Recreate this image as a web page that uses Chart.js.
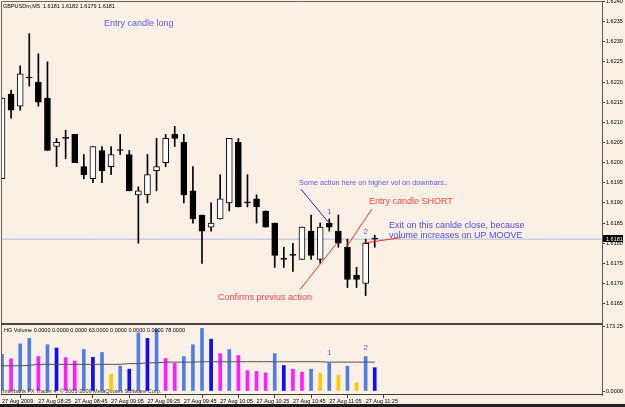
<!DOCTYPE html>
<html>
<head>
<meta charset="utf-8">
<script src="https://cdn.jsdelivr.net/npm/chart.js@4.4.1/dist/chart.umd.min.js"></script>
<style>
  html, body { margin: 0; padding: 0; background: #1e1e1e; }
  #wrap { width: 625px; height: 407px; background: #1e1e1e; }
  canvas { display: block; background: #fbf0e5; }
</style>
</head>
<body>
<div id="wrap"><canvas id="chart" width="625" height="404"></canvas></div>
<script>
// GBPUSDm M5, 27 Aug 2009, one entry per bar
const timeLabels = ['27 Aug 2009', '27 Aug 08:25', '27 Aug 08:45', '27 Aug 09:05', '27 Aug 09:25',
  '27 Aug 09:45', '27 Aug 10:05', '27 Aug 10:25', '27 Aug 10:45', '27 Aug 11:05', '27 Aug 11:25'];

const opens = [1.6196, 1.6217, 1.6214, 1.6221, 1.6220, 1.6216, 1.6204, 1.6206, 1.6207, 1.6199,
  1.6196, 1.6203, 1.6199, 1.6203, 1.6202, 1.6192, 1.6192, 1.6198, 1.6200, 1.6207,
  1.6205, 1.6193, 1.6187, 1.6184, 1.6186, 1.6190, 1.6205, 1.6190, 1.6191, 1.6188,
  1.6185, 1.6176, 1.6177, 1.6176, 1.6183, 1.6176, 1.6185, 1.6183, 1.6179, 1.6172,
  1.6170, 1.6181];
const highs = [1.6216, 1.6218, 1.6224, 1.6232, 1.6227, 1.6225, 1.6206, 1.6208, 1.6207, 1.6202,
  1.6204, 1.6204, 1.6204, 1.6207, 1.6203, 1.6194, 1.6202, 1.6206, 1.6207, 1.6209,
  1.6207, 1.6199, 1.6187, 1.6190, 1.6197, 1.6206, 1.6206, 1.6197, 1.6192, 1.6188,
  1.6185, 1.6179, 1.6180, 1.6184, 1.6187, 1.6185, 1.6186, 1.6187, 1.6181, 1.6174,
  1.6181, 1.6182];
const lows = [1.6196, 1.6211, 1.6213, 1.6219, 1.6214, 1.6203, 1.6199, 1.6201, 1.6200, 1.6196,
  1.6195, 1.6195, 1.6197, 1.6202, 1.6193, 1.6180, 1.6190, 1.6193, 1.6199, 1.6204,
  1.6190, 1.6185, 1.6175, 1.6183, 1.6186, 1.6188, 1.6189, 1.6189, 1.6185, 1.6184,
  1.6174, 1.6174, 1.6173, 1.6176, 1.6176, 1.6175, 1.6183, 1.6179, 1.6169, 1.6169,
  1.6167, 1.6179];
const closes = [1.6216, 1.6213, 1.6222, 1.6221, 1.6215, 1.6203, 1.6205, 1.6206, 1.6200, 1.6197,
  1.6204, 1.6198, 1.6202, 1.6203, 1.6193, 1.6193, 1.6197, 1.6199, 1.6206, 1.6206,
  1.6192, 1.6186, 1.6183, 1.6185, 1.6191, 1.6206, 1.6189, 1.6190, 1.6189, 1.6184,
  1.6177, 1.6176, 1.6177, 1.6184, 1.6177, 1.6184, 1.6184, 1.6180, 1.6171, 1.6171,
  1.6180, 1.6181];

const volumes = [99, 87, 127, 142, 93, 125, 116, 90, 81, 112,
  91, 104, 45, 67, 59, 157, 142, 167, 88, 75,
  93, 125, 169, 140, 101, 112, 96, 55, 53, 49,
  101, 69, 59, 51, 59, 48, 76, 42, 67, 22,
  93, 63];
// b = normal, d = dark blue, m = magenta, y = low (gold)
const volumeKinds = ['b', 'm', 'b', 'b', 'm', 'b', 'd', 'm', 'm', 'b',
  'd', 'b', 'y', 'b', 'd', 'b', 'd', 'b', 'm', 'm',
  'b', 'b', 'b', 'd', 'm', 'b', 'm', 'm', 'm', 'm',
  'b', 'd', 'm', 'm', 'b', 'y', 'b', 'y', 'b', 'y',
  'b', 'd'];
const volumeAverage = [68, 68, 68, 69, 72, 72, 72, 72, 72, 72,
  72, 72, 72, 72, 74, 74, 76, 76, 78, 78,
  78, 78, 79, 79, 79, 79, 79, 79, 79, 79,
  79, 79, 79, 79, 79, 79, 78, 78, 78, 78,
  78, 78];
const volumeTicks = [173.25, 0];

// hand drawn objects, anchored at [bar index, price]
const notes = [
  { text: 'Entry candle long', at: [11.22, 1.62346], color: '#5a5af5', size: 9 },
  { text: 'Some action here on higher vol on downbars..', at: [32.67, 1.61950], color: '#5a5af5', size: 7.3 },
  { text: 'Entry candle SHORT', at: [40.37, 1.61903], color: '#ff4646', size: 9 },
  { text: 'Exit on this canlde close, because', at: [42.57, 1.61843], color: '#4b4bf8', size: 9 },
  { text: 'volume increases on UP MOOVE', at: [42.57, 1.61820], color: '#4b4bf8', size: 9 },
  { text: 'Confirms previus action', at: [23.76, 1.61666], color: '#ff4646', size: 9 },
  { text: '1', at: [36, 1.61877], color: '#5a5af5', size: 8, center: true },
  { text: '2', at: [40, 1.61829], color: '#5a5af5', size: 8, center: true },
  { text: '1', at: [36, 104], color: '#5a5af5', size: 8, center: true, volume: true },
  { text: '2', at: [40, 117], color: '#5a5af5', size: 8, center: true, volume: true }
];
const noteLines = [
  { from: [32.89, 1.61934], to: [35.86, 1.61853], color: '#1e1ee6' },
  { from: [32.78, 1.61685], to: [36.9, 1.61802], color: '#ff2a2a' },
  { from: [37.9, 1.61791], to: [40.7, 1.61885], color: '#ff2a2a' },
  { from: [39.71, 1.61800], to: [43.89, 1.61814], color: '#ff2a2a' }
];

const volumeColors = { b: '#4f7fe6', d: '#0a0aff', m: '#ff1eff', y: '#ffc800' };
const axisFont = { family: 'Liberation Sans', size: 5.5 };
const last = closes.length - 1;
const bars = closes.map((c, i) => i);

const datasets = [
  {
    type: 'bar', label: 'bodies', order: 2, grouped: false, yAxisID: 'y',
    data: bars.map(i => ({ x: i, y: [opens[i], closes[i]] })),
    backgroundColor: bars.map(i => closes[i] > opens[i] ? '#ffffff' : '#000000'),
    borderColor: '#000000', borderWidth: 1, borderSkipped: false,
    barThickness: 6, minBarLength: 1
  },
  {
    type: 'bar', label: 'wicks', order: 3, grouped: false, yAxisID: 'y',
    data: bars.map(i => ({ x: i, y: [lows[i], highs[i]] })),
    backgroundColor: '#000000', barThickness: 1
  },
  {
    type: 'bar', label: 'volume', order: 3, grouped: false, yAxisID: 'yv',
    data: bars.map(i => ({ x: i, y: volumes[i] })),
    backgroundColor: volumeKinds.map(k => volumeColors[k]), barThickness: 3
  },
  {
    type: 'line', label: 'average', order: 1, yAxisID: 'yv',
    data: bars.map(i => ({ x: i, y: volumeAverage[i] })),
    borderColor: '#505050', borderWidth: 1, pointRadius: 0, tension: 0
  },
  {
    type: 'line', label: 'bid', order: 9, yAxisID: 'y',
    data: [{ x: 0, y: closes[last] }, { x: 66, y: closes[last] }],
    borderColor: '#aebde8', borderWidth: 1, pointRadius: 0
  }
];
noteLines.forEach(l => datasets.push({
  type: 'line', order: 0, yAxisID: 'y',
  data: [{ x: l.from[0], y: l.from[1] }, { x: l.to[0], y: l.to[1] }],
  borderColor: l.color, borderWidth: 1, pointRadius: 0
}));

const mtPlugin = {
  id: 'mt',
  afterDraw(chart) {
    const { ctx, chartArea: a, scales } = chart;
    const sep = scales.y.bottom;
    ctx.save();
    // pane frames
    ctx.strokeStyle = '#6b625a';
    ctx.lineWidth = 1;
    ctx.beginPath();
    ctx.moveTo(a.left - 0.5, a.bottom);
    ctx.lineTo(a.left - 0.5, a.top + 0.5);
    ctx.lineTo(a.right, a.top + 0.5);
    ctx.stroke();
    ctx.fillStyle = '#4a4542';
    ctx.fillRect(a.left - 1, sep, a.right - a.left + 1, 2);
    ctx.fillStyle = '#3c3c3c';
    ctx.fillRect(a.left - 1, a.bottom - 1, a.right - a.left + 1, 1);

    // hand drawn texts
    notes.forEach(n => {
      const ys = n.volume ? scales.yv : scales.y;
      ctx.font = n.size + 'px "Liberation Sans"';
      ctx.fillStyle = n.color;
      ctx.textBaseline = 'middle';
      ctx.textAlign = n.center ? 'center' : 'left';
      ctx.fillText(n.text, scales.x.getPixelForValue(n.at[0]), ys.getPixelForValue(n.at[1]));
    });

    // window captions
    ctx.font = '5.5px "Liberation Sans"';
    ctx.textAlign = 'left';
    ctx.fillStyle = '#000000';
    const ohlc = [opens[last], highs[last], lows[last], closes[last]].map(v => v.toFixed(4)).join(' ');
    ctx.fillText('GBPUSDm,M5  ' + ohlc, a.left + 1, a.top + 5);
    ctx.fillText('HG Volume 0.0000 0.0000 0.0000 ' + volumes[last].toFixed(4) + ' 0.0000 0.0000 0.0000 ' +
      volumeAverage[last].toFixed(4), a.left + 2, sep + 7);
    ctx.fillStyle = '#333333';
    ctx.fillText('Interbank FX Trader 4, \u00a9 2001-2009 MetaQuotes Software Corp.', a.left + 1, a.bottom - 4);

    // current price box
    const py = scales.y.getPixelForValue(closes[last]);
    ctx.fillStyle = '#000000';
    ctx.fillRect(scales.y.left + 1, Math.round(py) - 4, 20, 7);
    ctx.fillStyle = '#ffffff';
    ctx.fillText(closes[last].toFixed(4), scales.y.left + 4, Math.round(py));
    ctx.restore();
  }
};

function fixY(s) { s.width = 23; s.paddingTop = 0; s.paddingBottom = 0; }

new Chart(document.getElementById('chart'), {
  type: 'bar',
  data: { datasets },
  options: {
    responsive: false,
    animation: false,
    events: [],
    layout: { padding: { left: 2, top: 1, right: 0, bottom: 0 } },
    plugins: { legend: { display: false }, tooltip: { enabled: false } },
    scales: {
      x: {
        type: 'linear', min: 0, max: 66, offset: false,
        grid: { drawOnChartArea: false, tickLength: 3, color: '#404040' },
        border: { display: false },
        ticks: {
          stepSize: 4, includeBounds: false, autoSkip: false, maxRotation: 0, align: 'start',
          padding: 0, color: '#000000', font: axisFont,
          callback: v => (v % 4 === 0 && v / 4 < timeLabels.length) ? timeLabels[v / 4] : null
        },
        afterFit: s => { s.height = 9; s.paddingLeft = 0; s.paddingRight = 0; }
      },
      y: {
        type: 'linear', position: 'right', stack: 'panes', stackWeight: 322,
        min: 1.61602, max: 1.62401,
        grid: { drawOnChartArea: false, tickLength: 3, color: '#404040' },
        border: { color: '#5a5a5a' },
        ticks: { stepSize: 0.0005, includeBounds: false, padding: 1, color: '#000000', font: axisFont,
          callback: v => v.toFixed(4) },
        afterFit: fixY
      },
      yv: {
        type: 'linear', position: 'right', stack: 'panes', stackWeight: 72,
        min: -10.8, max: 183.6,
        grid: { drawOnChartArea: false, tickLength: 3, color: '#404040' },
        border: { color: '#5a5a5a' },
        ticks: { padding: 1, color: '#000000', font: axisFont,
          callback: v => v === 0 ? '0.0000' : v.toFixed(2) },
        afterBuildTicks: s => { s.ticks = volumeTicks.map(v => ({ value: v })); },
        afterFit: fixY
      }
    }
  },
  plugins: [mtPlugin]
});
</script>
</body>
</html>
